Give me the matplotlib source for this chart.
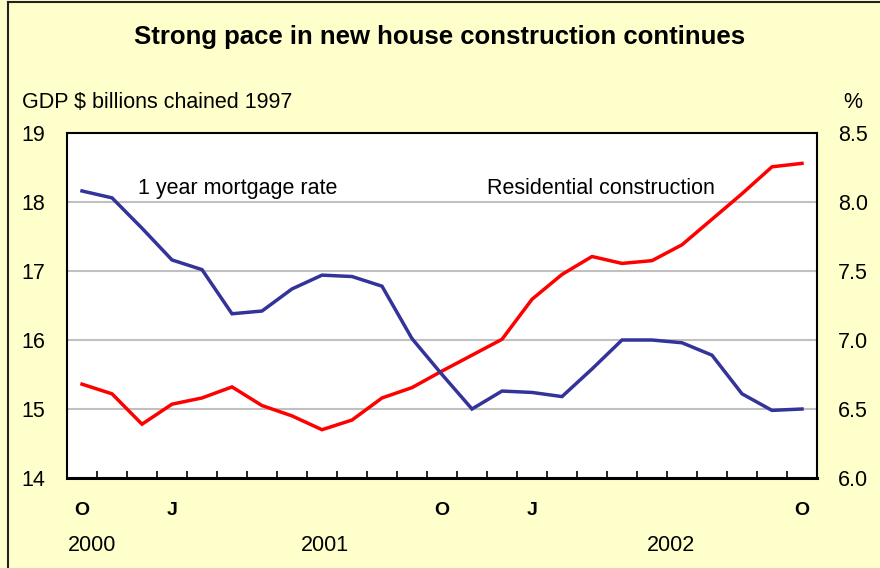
import numpy as np
import matplotlib
matplotlib.use("Agg")
from matplotlib import pyplot as plt
from matplotlib.lines import Line2D

plt.rcParams['font.family'] = ['Liberation Sans', 'DejaVu Sans']

# monthly, Oct 2000 .. Oct 2002
months = ["O", "N", "D", "J", "F", "M", "A", "M", "J", "J", "A", "S",
          "O", "N", "D", "J", "F", "M", "A", "M", "J", "J", "A", "S", "O"]
shown_months = [0, 3, 12, 15, 24]
years = ["2000", "2001", "2002"]
year_pos = [0.35, 8.1, 19.65]

# residential construction, GDP $ billions chained 1997 (left axis)
residential = [15.36, 15.22, 14.78, 15.07, 15.16, 15.32, 15.05, 14.90, 14.70,
               14.84, 15.16, 15.31, 15.55, 15.78, 16.01, 16.59, 16.95, 17.21,
               17.11, 17.15, 17.38, 17.75, 18.12, 18.51, 18.56]
# 1 year mortgage rate, % (right axis)
mortgage = [8.08, 8.03, 7.81, 7.58, 7.51, 7.19, 7.21, 7.37, 7.47, 7.46, 7.39,
            7.01, 6.75, 6.50, 6.63, 6.62, 6.59, 6.79, 7.00, 7.00, 6.98, 6.89,
            6.61, 6.49, 6.50]

bg = '#FFFFCC'
fig = plt.figure(figsize=(8.8, 5.68), dpi=100, facecolor=bg)
ax = fig.add_axes([67/880, 1-478/568, 750/880, 345/568])
ax2 = ax.twinx()

x = np.arange(len(months))
ax.plot(x, residential, color='#FF0000', lw=2.5, solid_joinstyle='miter', zorder=3)
ax2.plot(x, mortgage, color='#333399', lw=2.5, solid_joinstyle='miter', zorder=3)

ax.set_xlim(-0.5, len(months) - 0.5)
ax.set_ylim(14, 19)
ax2.set_ylim(6.0, 8.5)
ax.set_yticks([14, 15, 16, 17, 18, 19])
ax2.set_yticks([6.0, 6.5, 7.0, 7.5, 8.0, 8.5])
ax2.set_yticklabels([f"{v:.1f}" for v in [6.0, 6.5, 7.0, 7.5, 8.0, 8.5]])
for y in [15, 16, 17, 18]:
    ax.axhline(y, color='#C0C0C0', lw=1.5, zorder=1)

ax.tick_params(axis='y', length=0, pad=16, labelsize=15.5)
ax2.tick_params(axis='y', length=0, pad=15, labelsize=15.5)
ax.set_xticks(np.arange(len(months) - 1) + 0.5)
ax.set_xticklabels([])
ax.tick_params(axis='x', direction='in', length=5, width=1.2, color='black')

for sp in ax2.spines.values():
    sp.set_visible(False)
for name, sp in ax.spines.items():
    sp.set_color('black')
    sp.set_linewidth(1.5)
ax.spines['bottom'].set_linewidth(2.2)
ax.set_facecolor('white')

for i in shown_months:
    ax.text(i, -0.095, months[i], transform=ax.get_xaxis_transform(),
            ha='center', va='center', fontsize=14, fontweight='bold')
for yr, p in zip(years, year_pos):
    ax.text(p, -0.195, yr, transform=ax.get_xaxis_transform(),
            ha='center', va='center', fontsize=15.5)

ax.text(1.85, 18.19, "1 year mortgage rate", fontsize=15.5, ha='left', va='center')
ax.text(13.5, 18.19, "Residential construction", fontsize=15.5, ha='left', va='center')

fig.text(0.5, 1 - 37/568, "Strong pace in new house construction continues",
         ha='center', va='center', fontsize=18.5, fontweight='bold')
fig.text(22/880, 1 - 102/568, "GDP $ billions chained 1997", ha='left', va='center', fontsize=15.5)
fig.text(853/880, 1 - 102/568, "%", ha='center', va='center', fontsize=15.5)

# outer frame
fig.add_artist(Line2D([8/880, 8/880], [0, 1 - 2/568], transform=fig.transFigure, color='#222222', lw=1.5))
fig.add_artist(Line2D([8/880, 1], [1 - 2/568, 1 - 2/568], transform=fig.transFigure, color='#222222', lw=1.5))

fig.savefig("out.png", dpi=100, facecolor=bg)
